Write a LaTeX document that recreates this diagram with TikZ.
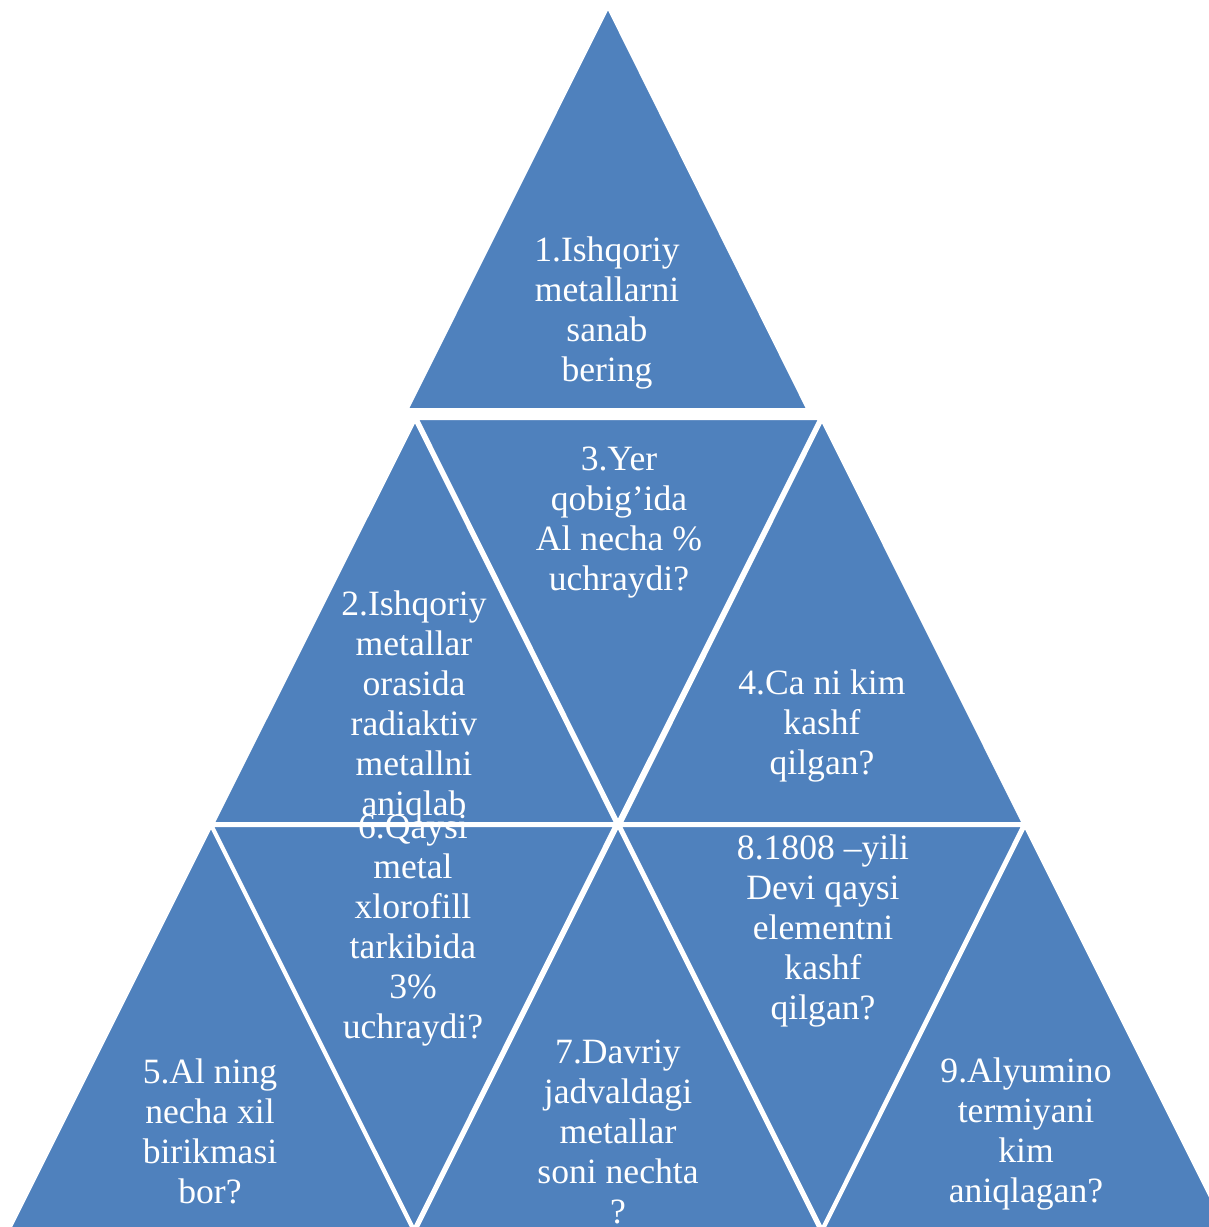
\documentclass[tikz,border=0pt]{standalone}
\usepackage{fontspec}
\setmainfont{Liberation Serif}
\usepackage{tikz}
\usetikzlibrary{positioning}
\definecolor{segblue}{HTML}{4F81BD}

\begin{document}
\begin{tikzpicture}[
  x=0.5pt, y=-0.5pt,
  seg/.style={fill=segblue, draw=white, line width=1.5pt, line join=round},
  qtext/.style={text=white, align=center, inner sep=0pt, font=\fontsize{17.8}{20}\selectfont},
]
\useasboundingbox (0,0) rectangle (1209,1227);
\clip (0,0) rectangle (1209,1227);

% --- top row ---
\draw[seg] (608,7) -- (808,409.5) -- (407,409.5) -- cycle;

% --- middle row: up, down, up ---
\draw[seg] (415,420) -- (616,823.5) -- (213,823.5) -- cycle;
\draw[seg] (417,418.5) -- (820,418.5) -- (618,822) -- cycle;
\draw[seg] (822,420) -- (1023.5,823.5) -- (621,823.5) -- cycle;

% --- bottom row: up, down, up, down, up ---
\draw[seg] (211,826) -- (413,1230) -- (9,1230) -- cycle;
\draw[seg] (212,825.5) -- (615,825.5) -- (414,1229) -- cycle;
\draw[seg] (618,826) -- (820,1230) -- (416,1230) -- cycle;
\draw[seg] (620,825.5) -- (1023,825.5) -- (822,1229) -- cycle;
\draw[seg] (1025,826) -- (1227,1230) -- (823,1230) -- cycle;

% Questions, drawn after all segments so they sit on top
\node[qtext] (q1) at (607,313) {1.Ishqoriy\\metallarni\\sanab\\bering};
\node[qtext] (q2) at (414,707) {2.Ishqoriy\\metallar\\orasida\\radiaktiv\\metallni\\aniqlab};
\node[qtext] (q3) at (619,523) {3.Yer\\qobig’ida\\Al necha \%\\uchraydi?};
\node[qtext] (q4) at (822,726) {4.Ca ni kim\\kashf\\qilgan?};
\node[qtext] (q5) at (210,1131) {5.Al ning\\necha xil\\birikmasi\\bor?};
\node[qtext] (q6) at (413,931) {6.Qaysi\\metal\\xlorofill\\tarkibida\\3\%\\uchraydi?};
\node[qtext] (q7) at (618,1132) {7.Davriy\\jadvaldagi\\metallar\\soni nechta\\?};
\node[qtext] (q8) at (823,931) {8.1808 –yili\\Devi qaysi\\elementni\\kashf\\qilgan?};
\node[qtext] (q9) at (1026,1134) {9.Alyumino\\termiyani\\kim\\aniqlagan?};
\end{tikzpicture}
\end{document}
